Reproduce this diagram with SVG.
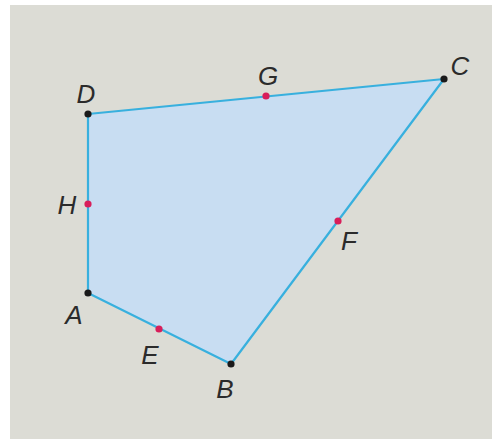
<svg xmlns="http://www.w3.org/2000/svg" width="492" height="439" viewBox="0 0 492 439">
<style>
.lbl{font-family:"Liberation Sans",Arial,sans-serif;font-style:italic;font-size:26px;fill:#2b2b2b;text-anchor:middle}
.v{fill:#1a1a1a}
.m{fill:#d81e5a}
</style>
<rect x="0" y="0" width="492" height="439" fill="#ffffff"/>
<rect x="10" y="5" width="482" height="434" fill="#dcdcd5"/>
<g id="edges">
<polygon points="88,293 231,364 444,79 88,114" fill="#c8ddf2" stroke="#38b0de" stroke-width="2.2" stroke-linejoin="round"/>
</g>
<g id="A"><circle class="v" cx="88" cy="293" r="3.6"/><text class="lbl" x="74" y="324">A</text></g>
<g id="B"><circle class="v" cx="231" cy="364" r="3.6"/><text class="lbl" x="225" y="398">B</text></g>
<g id="C"><circle class="v" cx="444" cy="79" r="3.6"/><text class="lbl" x="460" y="75">C</text></g>
<g id="D"><circle class="v" cx="88" cy="114" r="3.6"/><text class="lbl" x="86" y="103">D</text></g>
<g id="E"><circle class="m" cx="159" cy="329" r="3.6"/><text class="lbl" x="150" y="364">E</text></g>
<g id="F"><circle class="m" cx="338" cy="221" r="3.6"/><text class="lbl" x="349" y="250">F</text></g>
<g id="G"><circle class="m" cx="266" cy="96" r="3.6"/><text class="lbl" x="268" y="85">G</text></g>
<g id="H"><circle class="m" cx="88" cy="204" r="3.6"/><text class="lbl" x="67" y="214">H</text></g>
</svg>
